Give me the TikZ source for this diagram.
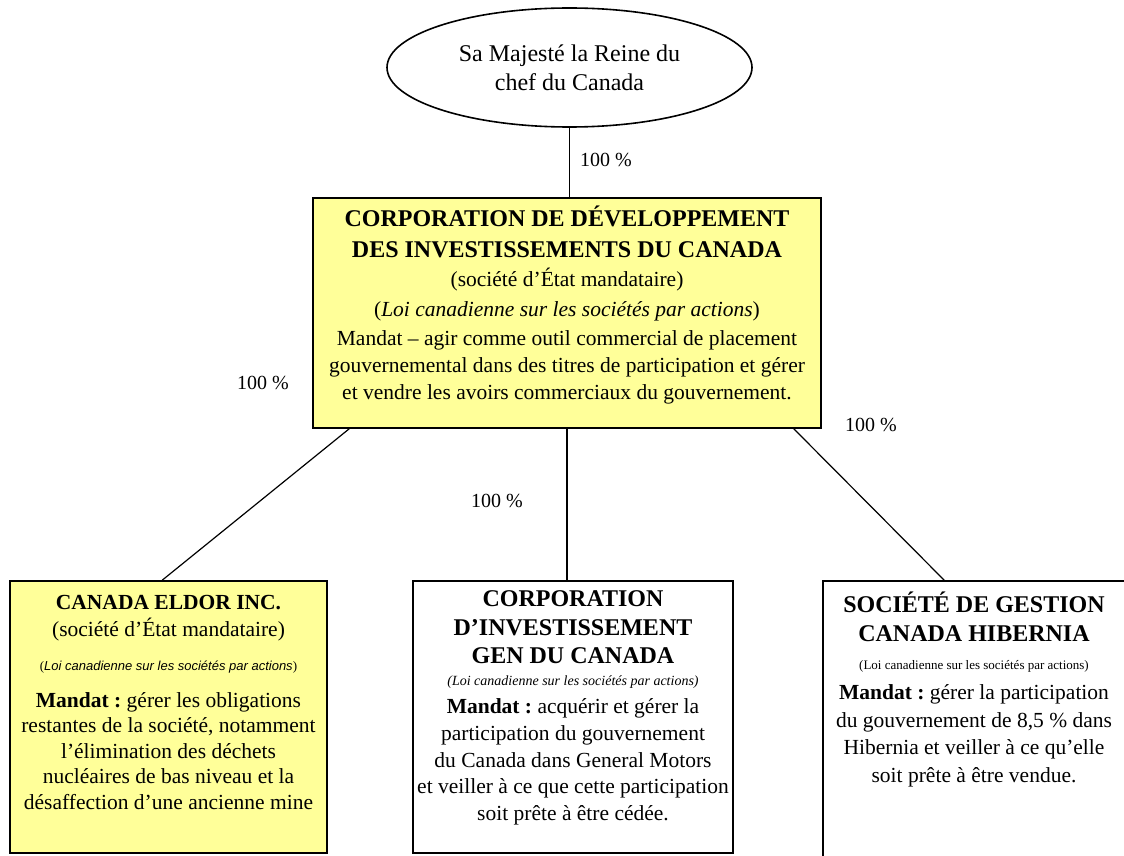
\documentclass[tikz,border=0pt]{standalone}
\usepackage{fontspec}
\setmainfont{Liberation Serif}
\setsansfont{Liberation Sans}
\usetikzlibrary{shapes.geometric}
\definecolor{boxyellow}{RGB}{255,255,153}
\frenchspacing

\begin{document}
\begin{tikzpicture}[x=1pt,y=-1pt,
    orgbox/.style={draw,black,line width=1.6pt,inner sep=0pt},
    orgtext/.style={anchor=north,inner sep=0pt,align=flush center},
    link/.style={black,line width=1.2pt},
    pct/.style={font=\fontsize{20}{24}\selectfont,inner sep=0pt}]
    \useasboundingbox (0,0) rectangle (1124,856);
    \node[ellipse,orgbox,minimum width=365pt,minimum height=119pt,align=center,font=\fontsize{24}{29}\selectfont] (queen) at (569.5,67.5) {Sa Majesté la Reine du\\chef du Canada};
    \node[orgbox,fill=boxyellow,minimum width=508pt,minimum height=230pt] (cdic) at (567,313) {};
    \node[orgbox,fill=boxyellow,minimum width=317pt,minimum height=272pt] (eldor) at (168.5,717) {};
    \node[orgbox,fill=white,minimum width=320pt,minimum height=272pt] (gen) at (573,717) {};
    \node[orgbox,fill=white,minimum width=302pt,minimum height=300pt] (hib) at (974,731) {};
    \node[orgtext,text width=540pt,font=\fontsize{21.5}{27}\selectfont] (cdictxt) at ([yshift=-8.5pt]cdic.north) {{\fontsize{24}{27}\selectfont\bfseries CORPORATION DE DÉVELOPPEMENT\\[4pt]DES INVESTISSEMENTS DU CANADA}\\[2pt]
        (société d’État mandataire)\\[3pt]
        (\textit{Loi canadienne sur les sociétés par actions})\\[2pt]
        Mandat – agir comme outil commercial de placement\\
        gouvernemental dans des titres de participation et gérer\\
        et vendre les avoirs commerciaux du gouvernement.};
    \node[orgtext,text width=345pt,font=\fontsize{21.5}{25.5}\selectfont] (eldortxt) at ([yshift=-14.8pt]eldor.north) {{\bfseries CANADA ELDOR INC.}\\[1.5pt]
        (société d’État mandataire)\\[8.5pt]
        {\fontsize{13}{15}\selectfont(\textsf{\itshape Loi canadienne sur les sociétés par actions})}\\[11.5pt]
        {\bfseries Mandat :} gérer les obligations\\
        restantes de la société, notamment\\
        l’élimination des déchets\\
        nucléaires de bas niveau et la\\
        désaffection d’une ancienne mine};
    \node[orgtext,text width=350pt,font=\fontsize{21.5}{26.7}\selectfont] (gentxt) at ([yshift=-10.1pt]gen.north) {{\fontsize{24}{28}\selectfont\bfseries CORPORATION\\[1.3pt]D’INVESTISSEMENT\\[1.3pt]GEN DU CANADA}\\[-4.7pt]
        {\fontsize{14}{16}\selectfont\itshape (Loi canadienne sur les sociétés par actions)}\\[1.3pt]
        {\bfseries Mandat :} acquérir et gérer la\\
        participation du gouvernement\\
        du Canada dans General Motors\\
        et veiller à ce que cette participation\\
        soit prête à être cédée.};
    \node[orgtext,text width=330pt,font=\fontsize{21.5}{27.7}\selectfont] (hibtxt) at ([yshift=-11.4pt]hib.north) {{\fontsize{24}{28}\selectfont\bfseries SOCIÉTÉ DE GESTION\\[1.3pt]CANADA HIBERNIA}\\[0.3pt]
        {\fontsize{13}{15}\selectfont (Loi canadienne sur les sociétés par actions)}\\[2.3pt]
        {\bfseries Mandat :} gérer la participation\\
        du gouvernement de 8,5 \% dans\\
        Hibernia et veiller à ce qu’elle\\
        soit prête à être vendue.};
    \draw[link] (queen.south) -- (queen.south |- cdic.north);
    \draw[link] ([xshift=37pt]cdic.south west) -- ([xshift=153pt]eldor.north west);
    \draw[link] (cdic.south) -- (cdic.south |- gen.north);
    \draw[link] ([xshift=-28pt]cdic.south east) -- ([xshift=122pt]hib.north west);
    \node[pct] (pctqueen) at (606,160) {100 \%};
    \node[pct] (pcteldor) at (263,383) {100 \%};
    \node[pct] (pctgen) at (497,501) {100 \%};
    \node[pct] (pcthib) at (871,425) {100 \%};
\end{tikzpicture}
\end{document}
